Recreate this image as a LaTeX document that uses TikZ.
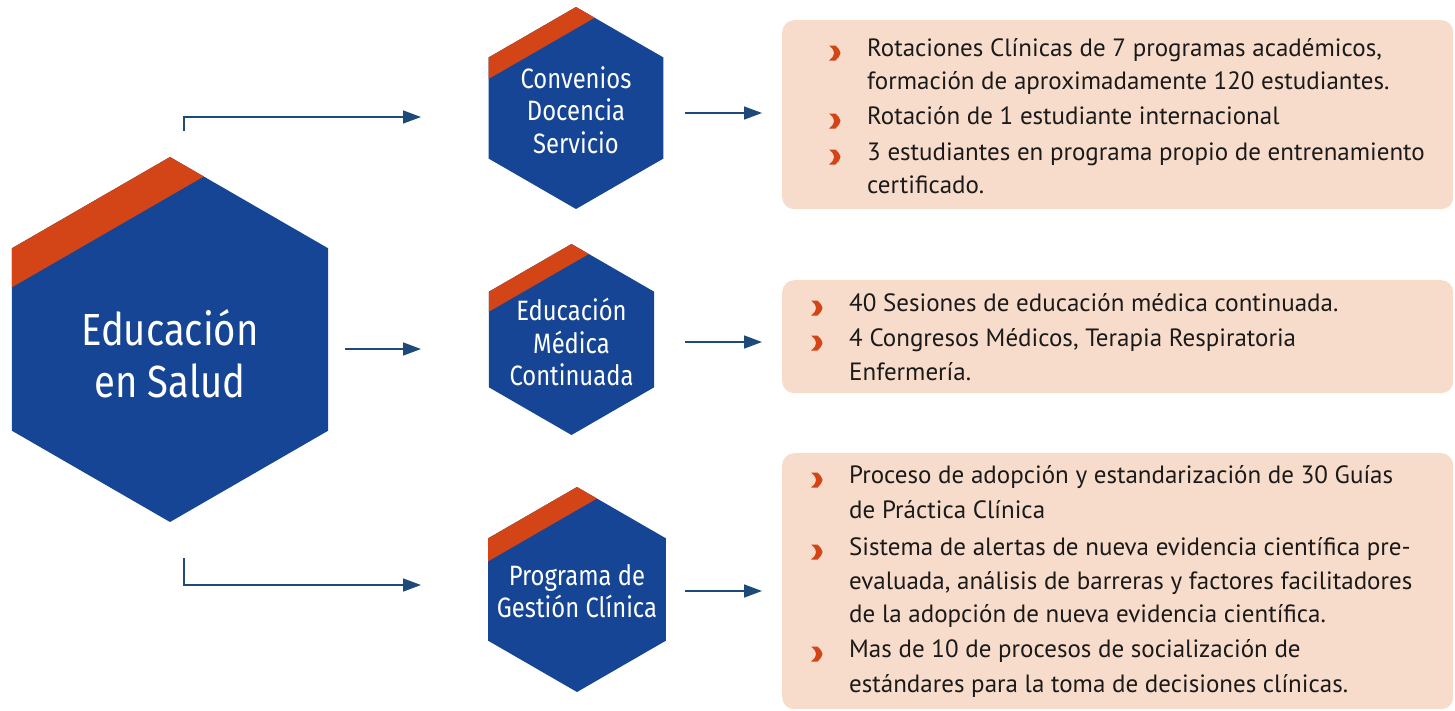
\documentclass[tikz,border=0pt]{standalone}
\usepackage{fontspec}
\usetikzlibrary{arrows.meta}
\newfontfamily\hexfont{Fira Sans}[FakeStretch=0.85]
\newfontfamily\boxfont{PT Sans}
\definecolor{hexblue}{HTML}{154594}
\definecolor{hexorange}{HTML}{D34516}
\definecolor{boxpeach}{HTML}{F8DCCB}
\definecolor{arrowblue}{HTML}{1D4A78}
\definecolor{txt}{HTML}{1A1A1A}
% cx, cy, R, stripe depth
\newcommand\drawhex[4]{%
  \begin{scope}
    \clip ({#1},{#2-#3}) -- ({#1+#3*cos(30)},{#2-#3/2}) -- ({#1+#3*cos(30)},{#2+#3/2})
      -- ({#1},{#2+#3}) -- ({#1-#3*cos(30)},{#2+#3/2}) -- ({#1-#3*cos(30)},{#2-#3/2}) -- cycle;
    \fill[hexblue] ({#1-#3},{#2-#3}) rectangle ({#1+#3},{#2+#3});
    \fill[hexorange] ({#1-#3*cos(30)-2},{#2-#3/2+#4+2*tan(30)}) -- ({#1+#3*cos(30)+2},{#2-1.5*#3+#4-2*tan(30)})
      -- ({#1+#3},{#2-#3-5}) -- ({#1-#3},{#2-#3-5}) -- cycle;
  \end{scope}}
\newcommand\bul[2]{%
  \fill[hexorange] ({#1-5.5},{#2-7.5}) -- ({#1+1},{#2-7.5}) .. controls ({#1+4.5},{#2-4}) .. ({#1+6},{#2})
    .. controls ({#1+4.5},{#2+4}) .. ({#1+1},{#2+7.5}) -- ({#1-5.5},{#2+7.5})
    .. controls ({#1-1.5},{#2+4}) .. ({#1-0.5},{#2}) .. controls ({#1-1.5},{#2-4}) .. cycle;}
\tikzset{
  conn/.style={draw=arrowblue, line width=1.5pt, -{Triangle[length=18pt,width=13pt]}},
  infobox/.style={fill=boxpeach, rounded corners=12pt, anchor=north west, inner sep=0pt, minimum width=671pt},
  hexlabel/.style={text=white, align=center, inner sep=0pt, font=\hexfont\fontsize{28}{32.5}\selectfont},
  biglabel/.style={text=white, align=center, inner sep=0pt, font=\hexfont\fontsize{45}{52}\selectfont},
  line/.style={anchor=base west, inner sep=0pt, text=txt, font=\boxfont\fontsize{25}{33}\selectfont},
}
\begin{document}
\begin{tikzpicture}[x=1pt,y=-1pt]
\path[use as bounding box] (0,0) rectangle (1455,710);
% hexagons
\drawhex{170}{339.5}{182.5}{39}
\drawhex{576}{108}{101}{21.5}
\drawhex{571.5}{339.5}{95.5}{20}
\drawhex{577}{589.5}{102.5}{23}
\node[biglabel] (main) at (170,354) {Educación\\en Salud};
\node[hexlabel] (h1) at (576,110) {Convenios\\Docencia\\Servicio};
\node[hexlabel] (h2) at (571.5,342) {Educación\\Médica\\Continuada};
\node[hexlabel] (h3) at (577,591) {Programa de\\Gestión Clínica};
% boxes
\node[infobox, minimum height=189pt] (b1) at (782,20) {};
\node[infobox, minimum height=113pt] (b2) at (782,280) {};
\node[infobox, minimum height=256pt] (b3) at (782,453) {};
% arrows
\coordinate (a1s) at (184,131); \coordinate (a1e) at (421,117);
\coordinate (a2s) at (345,349); \coordinate (a2e) at (421,349);
\coordinate (a3s) at (184,558); \coordinate (a3e) at (421,585);
\draw[conn] (a1s) |- (a1e);
\draw[conn] (a2s) -- (a2e);
\draw[conn] (a3s) |- (a3e);
\coordinate (c1s) at (685,113); \coordinate (c1e) at (762,113);
\coordinate (c2s) at (685,342); \coordinate (c2e) at (762,342);
\coordinate (c3s) at (685,591); \coordinate (c3e) at (762,591);
\draw[conn] (c1s) -- (c1e);
\draw[conn] (c2s) -- (c2e);
\draw[conn] (c3s) -- (c3e);
% box 1
\bul{834.5}{53}
\node[line] (t1) at (867,56) {Rotaciones Clínicas de 7 programas académicos,};
\node[line] (t2) at (867,89) {formación de aproximadamente 120 estudiantes.};
\bul{834.5}{121}
\node[line] (t3) at (867,124) {Rotación de 1 estudiante internacional};
\bul{834.5}{157}
\node[line] (t4) at (867,160) {3 estudiantes en programa propio de entrenamiento};
\node[line] (t5) at (867,193) {certificado.};
% box 2
\bul{816.5}{308}
\node[line] (t6) at (849,311) {40 Sesiones de educación médica continuada.};
\bul{816.5}{343}
\node[line] (t7) at (849,346) {4 Congresos Médicos, Terapia Respiratoria};
\node[line] (t8) at (849,380) {Enfermería.};
% box 3
\bul{816.5}{480}
\node[line] (t9) at (849,483) {Proceso de adopción y estandarización de 30 Guías};
\node[line] (t10) at (849,518) {de Práctica Clínica};
\bul{816.5}{552}
\node[line] (t11) at (849,555) {Sistema de alertas de nueva evidencia científica pre-};
\node[line] (t12) at (849,589) {evaluada, análisis de barreras y factores facilitadores};
\node[line] (t13) at (849,622) {de la adopción de nueva evidencia científica.};
\bul{816.5}{654}
\node[line] (t14) at (849,657) {Mas de 10 de procesos de socialización de};
\node[line] (t15) at (849,692) {estándares para la toma de decisiones clínicas.};
\end{tikzpicture}
\end{document}
